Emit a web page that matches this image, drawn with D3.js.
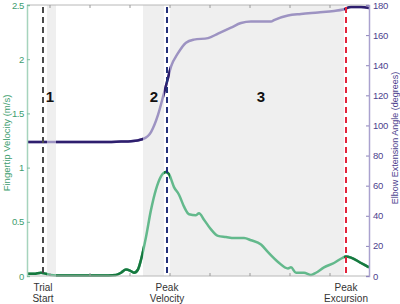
<!DOCTYPE html>
<html>
<head>
<meta charset="utf-8">
<script src="https://cdn.jsdelivr.net/npm/d3@7"></script>
<style>
body { margin: 0; background: #fff; }
svg { font-family: "Liberation Sans", Arial, sans-serif; }
</style>
</head>
<body>
<div id="chart"></div>
<script>
// fingertip velocity (m/s) vs time (s)
var velT = [-0.115,-0.08,-0.045,-0.02,0.005,0.055,0.155,0.255,0.33,0.355,0.38,0.40,0.42,0.44,0.455,0.48,0.505,0.53,0.555,0.58,0.595,0.62,0.645,0.67,0.695,0.73,0.745,0.77,0.805,0.84,0.88,0.92,0.97,1.005,1.055,1.09,1.14,1.19,1.205,1.23,1.27,1.305,1.33,1.37,1.42,1.465,1.48,1.505,1.555,1.595];
var velocity = [0.02,0.02,0.03,0.02,0.01,0.005,0.005,0.005,0.01,0.03,0.06,0.05,0.03,0.06,0.15,0.36,0.61,0.80,0.92,0.96,0.94,0.82,0.75,0.64,0.57,0.56,0.58,0.52,0.43,0.37,0.36,0.35,0.35,0.33,0.29,0.22,0.13,0.07,0.08,0.03,0.03,0.01,0.03,0.08,0.12,0.17,0.18,0.17,0.12,0.08];

// elbow extension angle (degrees) vs time (s)
var angT = [-0.115,0.055,0.255,0.355,0.405,0.465,0.505,0.54,0.57,0.585,0.605,0.64,0.68,0.72,0.79,0.84,0.905,0.955,1.005,1.105,1.12,1.19,1.255,1.34,1.42,1.465,1.505,1.555,1.595];
var angle = [89,89,89,89.3,89.5,91,95.6,107,121.5,129,139,148,155,157,158,161,165,168,169,169,170,173,174,175,176,177,178.7,178.7,178];

// events and phases
var eventT = [-0.035, 0.585, 1.48];
var eventTop = ["Trial", "Peak", "Peak"];
var eventBottom = ["Start", "Velocity", "Excursion"];
var phaseStart = [-0.015, 0.465, 0.6];
var phaseEnd = [0.03, 0.57, 1.47];
var phaseNames = ["1", "2", "3"];
var phaseLabelT = [0, 0.52, 1.055];

var velTicks = [0, 0.5, 1, 1.5, 2, 2.5];
var angTicks = [0, 20, 40, 60, 80, 100, 120, 140, 160, 180];
var timeTicks = [0, 0.2, 0.4, 0.6, 0.8, 1.0, 1.2, 1.4];

function drawChart() {
var W = 400, H = 304;
var mLeft = 27, mRight = 369, mTop = 5, mBottom = 276;
var tMin = -0.115, tMax = 1.595;

var x = d3.scaleLinear().domain([tMin, tMax]).range([mLeft, mRight]);
var yV = d3.scaleLinear().domain([0, 2.5]).range([mBottom, mTop]);
var yA = d3.scaleLinear().domain([0, 180]).range([mBottom, mTop]);

var svg = d3.select("#chart").append("svg")
    .attr("width", W)
    .attr("height", H);

// grey phase shading
svg.selectAll("rect.phase")
    .data(phaseNames)
    .enter()
    .append("rect")
    .attr("class", "phase")
    .attr("x", function(d, i) { return x(phaseStart[i]); })
    .attr("width", function(d, i) { return x(phaseEnd[i]) - x(phaseStart[i]); })
    .attr("y", mTop)
    .attr("height", mBottom - mTop)
    .attr("fill", "#efefef");

// clip for the dark (unshaded) parts of the lines
var gaps = [[tMin, phaseStart[0]], [phaseEnd[0], phaseStart[1]], [phaseEnd[1], phaseStart[2]], [phaseEnd[2], tMax + 0.05]];
svg.append("clipPath")
    .attr("id", "white")
    .selectAll("rect")
    .data(gaps)
    .enter()
    .append("rect")
    .attr("x", function(d) { return x(d[0]); })
    .attr("width", function(d) { return x(d[1]) - x(d[0]); })
    .attr("y", 0)
    .attr("height", H);

var velLine = d3.line()
    .x(function(d, i) { return x(velT[i]); })
    .y(function(d) { return yV(d); })
    .curve(d3.curveMonotoneX);

var angLine = d3.line()
    .x(function(d, i) { return x(angT[i]); })
    .y(function(d) { return yA(d); })
    .curve(d3.curveMonotoneX);

svg.append("path").datum(angle).attr("d", angLine)
    .attr("fill", "none").attr("stroke", "#9d93c2").attr("stroke-width", 2.5);
svg.append("path").datum(angle).attr("d", angLine)
    .attr("clip-path", "url(#white)")
    .attr("fill", "none").attr("stroke", "#2e1f6e").attr("stroke-width", 2.5);

svg.append("path").datum(velocity).attr("d", velLine)
    .attr("fill", "none").attr("stroke", "#63b98c").attr("stroke-width", 2.5);
svg.append("path").datum(velocity).attr("d", velLine)
    .attr("clip-path", "url(#white)")
    .attr("fill", "none").attr("stroke", "#16793f").attr("stroke-width", 2.5);

// frame: top and bottom
svg.append("line").attr("x1", mLeft).attr("x2", mRight).attr("y1", mTop).attr("y2", mTop)
    .attr("stroke", "#b8b8b8").attr("stroke-width", 1);
svg.append("line").attr("x1", mLeft).attr("x2", mRight).attr("y1", mBottom).attr("y2", mBottom)
    .attr("stroke", "#b8b8b8").attr("stroke-width", 1);

svg.selectAll("line.tt")
    .data(timeTicks)
    .enter()
    .append("line")
    .attr("class", "tt")
    .attr("x1", function(d) { return x(d); })
    .attr("x2", function(d) { return x(d); })
    .attr("y1", mTop).attr("y2", mTop + 3)
    .attr("stroke", "#999");
svg.selectAll("line.bt")
    .data(timeTicks)
    .enter()
    .append("line")
    .attr("class", "bt")
    .attr("x1", function(d) { return x(d); })
    .attr("x2", function(d) { return x(d); })
    .attr("y1", mBottom).attr("y2", mBottom - 3)
    .attr("stroke", "#999");

// left axis
var leftAxis = d3.axisRight(yV)
    .tickValues(velTicks)
    .tickSize(3)
    .tickFormat(function(d) { return d; });
var gl = svg.append("g")
    .attr("transform", "translate(" + mLeft + ",0)")
    .call(leftAxis);
gl.select(".domain").attr("stroke", "#a6d4bd").attr("stroke-width", 1.5);
gl.selectAll(".tick line").attr("stroke", "#7cc0a0");
gl.selectAll(".tick text")
    .attr("x", -3)
    .attr("text-anchor", "end")
    .style("font-size", "9.5px")
    .style("letter-spacing", "-0.4px")
    .style("fill", "#3d9d6e");

// right axis
var rightAxis = d3.axisLeft(yA)
    .tickValues(angTicks)
    .tickSize(3);
var gr = svg.append("g")
    .attr("transform", "translate(" + mRight + ",0)")
    .call(rightAxis);
gr.select(".domain").attr("stroke", "#aaa2cf").attr("stroke-width", 1.5);
gr.selectAll(".tick line").attr("stroke", "#8d83bb");
gr.selectAll(".tick text")
    .attr("x", 4)
    .attr("text-anchor", "start")
    .style("font-size", "9.5px")
    .style("letter-spacing", "-0.3px")
    .style("fill", "#4d3f8e");

// event dashed lines
var eventColors = ["#4a4a4a", "#23307a", "#e3243c"];
svg.selectAll("line.event")
    .data(eventT)
    .enter()
    .append("line")
    .attr("class", "event")
    .attr("x1", function(d) { return x(d); })
    .attr("x2", function(d) { return x(d); })
    .attr("y1", mTop + 2).attr("y2", mBottom)
    .attr("stroke", function(d, i) { return eventColors[i]; })
    .attr("stroke-width", 2)
    .attr("stroke-dasharray", "6,4");

// phase numbers
svg.selectAll("text.phase")
    .data(phaseNames)
    .enter()
    .append("text")
    .attr("class", "phase")
    .attr("x", function(d, i) { return x(phaseLabelT[i]); })
    .attr("y", 102)
    .attr("text-anchor", "middle")
    .style("font-size", "15px")
    .style("font-weight", "bold")
    .style("fill", "#111")
    .text(function(d) { return d; });

// event labels
svg.selectAll("text.ev1")
    .data(eventTop)
    .enter()
    .append("text")
    .attr("class", "ev1")
    .attr("x", function(d, i) { return x(eventT[i]); })
    .attr("y", 291)
    .attr("text-anchor", "middle")
    .style("font-size", "10px")
    .style("fill", "#333")
    .text(function(d) { return d; });
svg.selectAll("text.ev2")
    .data(eventBottom)
    .enter()
    .append("text")
    .attr("class", "ev2")
    .attr("x", function(d, i) { return x(eventT[i]); })
    .attr("y", 302)
    .attr("text-anchor", "middle")
    .style("font-size", "10px")
    .style("fill", "#333")
    .text(function(d) { return d; });

// axis titles
svg.append("text")
    .attr("transform", "rotate(-90)")
    .attr("x", -143)
    .attr("y", 10)
    .attr("text-anchor", "middle")
    .style("font-size", "9.5px")
    .style("fill", "#3d9d6e")
    .text("Fingertip Velocity (m/s)");

svg.append("text")
    .attr("transform", "rotate(-90)")
    .attr("x", -138)
    .attr("y", 398)
    .attr("text-anchor", "middle")
    .style("font-size", "9px")
    .style("fill", "#4d3f8e")
    .text("Elbow Extension Angle (degrees)");
}

drawChart();
</script>
</body>
</html>
